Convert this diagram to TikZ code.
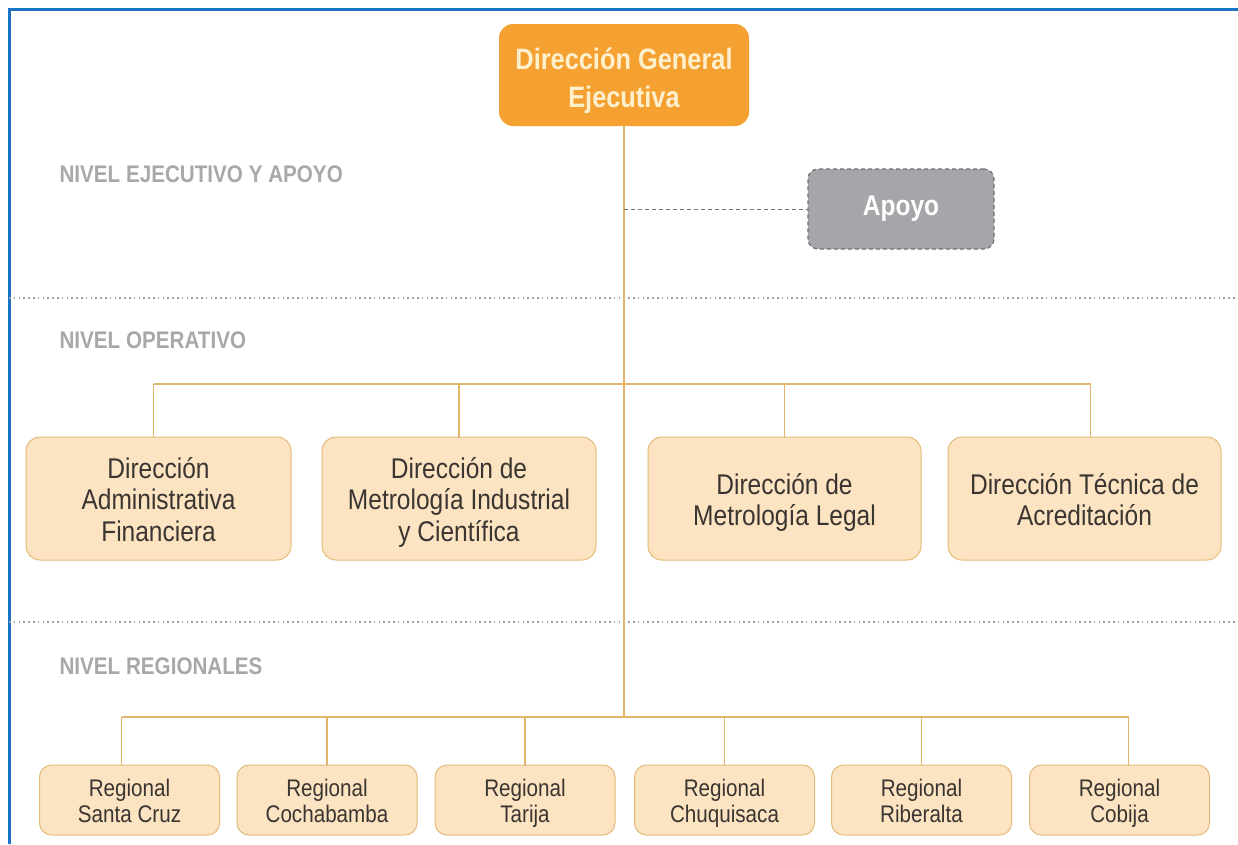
\documentclass[tikz,border=0pt]{standalone}
\usepackage{fontspec}
\setmainfont{Liberation Sans}[FakeStretch=0.86]
\definecolor{framblue}{RGB}{26,116,197}
\definecolor{dgeorange}{RGB}{245,161,49}
\definecolor{dgetext}{RGB}{255,240,205}
\definecolor{boxfill}{RGB}{252,228,195}
\definecolor{boxline}{RGB}{228,186,120}
\definecolor{linegold}{RGB}{226,182,106}
\definecolor{nivelgray}{RGB}{168,168,170}
\definecolor{apoyofill}{RGB}{166,166,170}
\definecolor{apoyoline}{RGB}{112,112,115}
\definecolor{inktext}{RGB}{58,53,48}
% first line pushed down by a tall invisible rule
\newcommand{\caja}[2]{\rule{0pt}{#1}#2\strut}

\begin{document}
\begin{tikzpicture}[x=1pt,y=1pt,yscale=-1,
  link/.style={draw=linegold,line width=1.3pt},
  nivel/.style={anchor=west,text=nivelgray,font=\fontsize{24}{27}\selectfont\bfseries},
  separador/.style={draw=gray!75,line width=1.6pt,dash pattern=on 1.6pt off 3.2pt},
  unidad/.style={draw=boxline,fill=boxfill,line width=1pt,rounded corners=14pt,
    minimum height=123pt,align=center,text=inktext,font=\fontsize{28.5}{31.5}\selectfont},
  regional/.style={draw=boxline,fill=boxfill,line width=1pt,rounded corners=12pt,
    minimum width=180pt,minimum height=70pt,align=center,text=inktext,
    font=\fontsize{24}{26}\selectfont}]
\useasboundingbox (0,0) rectangle (1238,844);
%Frame
\draw [framblue,line width=3pt] (9.5,844) -- (9.5,9.5) -- (1238,9.5) ;
%Separators
\draw [separador] (9,298) -- (1238,298) ;
\draw [separador] (9,622) -- (1238,622) ;
% Text Node
\node [nivel] (nEje) at (56,174) {NIVEL EJECUTIVO Y APOYO};
\node [nivel] (nOpe) at (56,340) {NIVEL OPERATIVO};
\node [nivel] (nReg) at (56,666) {NIVEL REGIONALES};
%Shape: Top box
\node [fill=dgeorange,rounded corners=14pt,minimum width=250pt,minimum height=102pt,
  align=center,text=dgetext,font=\fontsize{29.5}{38}\selectfont\bfseries]
  (dge) at (624,75) {\caja{38.5pt}{Dirección General\\Ejecutiva}};
%Shape: Apoyo
\node [draw=apoyoline,fill=apoyofill,dash pattern=on 4pt off 3pt,line width=1.2pt,rounded corners=10pt,
  minimum width=186pt,minimum height=80pt,text=white,font=\fontsize{28.5}{30}\selectfont\bfseries]
  (apoyo) at (901,209) {Apoyo};
%Shape: Operative level
\node [unidad,minimum width=265pt] (daf) at (158.5,498.5) {\caja{32pt}{Dirección\\Administrativa\\Financiera}};
\node [unidad,minimum width=274pt] (dmic) at (459,498.5) {\caja{32pt}{Dirección de\\Metrología Industrial\\y Científica}};
\node [unidad,minimum width=273pt] (dml) at (784.5,498.5) {\caja{32pt}{Dirección de\\Metrología Legal}};
\node [unidad,minimum width=273pt] (dta) at (1084.5,498.5) {\caja{32pt}{Dirección Técnica de\\Acreditación}};
%Shape: Regionals
\node [regional] (rscz) at (129.5,800) {\caja{27pt}{Regional\\Santa Cruz}};
\node [regional] (rcbba) at (327,800) {\caja{27pt}{Regional\\Cochabamba}};
\node [regional] (rtja) at (525,800) {\caja{27pt}{Regional\\Tarija}};
\node [regional] (rchq) at (724.5,800) {\caja{27pt}{Regional\\Chuquisaca}};
\node [regional] (rrib) at (921.5,800) {\caja{27pt}{Regional\\Riberalta}};
\node [regional] (rcob) at (1119.5,800) {\caja{27pt}{Regional\\Cobija}};
% Bus coordinates
\coordinate (busOpe) at (624,384);
\coordinate (busReg) at (624,717);
\coordinate (tDaf) at ([xshift=-5pt]daf.north);
\coordinate (tDta) at ([xshift=6pt]dta.north);
\coordinate (tScz) at ([xshift=-8pt]rscz.north);
\coordinate (tCob) at ([xshift=9pt]rcob.north);
%Straight Lines
\draw [link] (dge.south) -- (busReg) ;
\draw [apoyoline,dash pattern=on 4pt off 3pt,line width=1pt] (apoyo.west -| dge.south) -- (apoyo.west) ;
\draw [link] (tDaf |- busOpe) -- (tDta |- busOpe) ;
\foreach \u in {tDaf,dmic.north,dml.north,tDta}
  \draw [link] (\u |- busOpe) -- (\u) ;
\draw [link] (tScz |- busReg) -- (tCob |- busReg) ;
\foreach \r in {tScz,rcbba.north,rtja.north,rchq.north,rrib.north,tCob}
  \draw [link] (\r |- busReg) -- (\r) ;
\end{tikzpicture}
\end{document}
